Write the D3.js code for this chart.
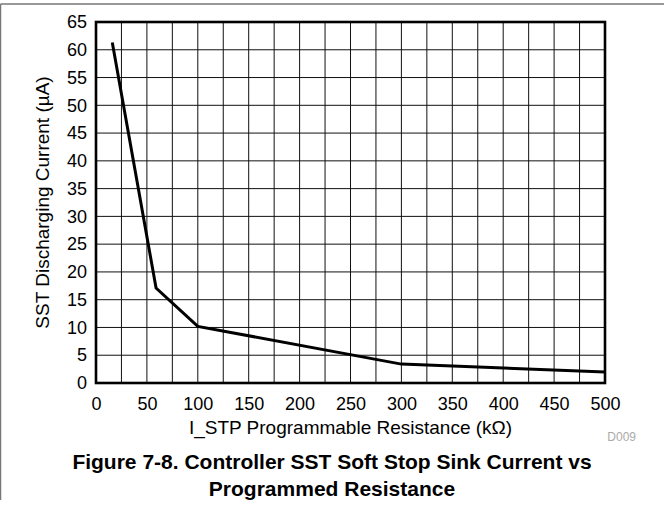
<!DOCTYPE html>
<html>
<head>
<meta charset="utf-8">
<script src="https://cdn.jsdelivr.net/npm/d3@7"></script>
<style>
  body { margin: 0; background: #fff; }
  svg { display: block; font-family: "Liberation Sans", Arial, Helvetica, sans-serif; }
</style>
</head>
<body>
<div id="chart"></div>
<script>
// curve: resistance (kOhm) -> sink current (uA)
var resistance = [16, 59, 100, 300, 500];
var current = [61.3, 17.1, 10.2, 3.4, 2.0];

var xTicks = [0, 50, 100, 150, 200, 250, 300, 350, 400, 450, 500];
var yTicks = [0, 5, 10, 15, 20, 25, 30, 35, 40, 45, 50, 55, 60, 65];
var xGrid = d3.range(25, 500, 25);

var xTitle = "I_STP Programmable Resistance (k\u03A9)";
var yTitle = "SST Discharging Current (\u00B5A)";
var caption1 = "Figure 7-8. Controller SST Soft Stop Sink Current vs";
var caption2 = "Programmed Resistance";

var width = 664, height = 506;
var marge = {left: 96, top: 22, right: 605, bottom: 383};

var svg = d3.select("#chart").append("svg")
    .attr("width", width)
    .attr("height", height);

// outer frame (only top and left edge show)
svg.append("line").attr("x1", 0.5).attr("y1", 4).attr("x2", width).attr("y2", 4)
    .attr("stroke", "#777").attr("stroke-width", 1.5);
svg.append("line").attr("x1", 0.5).attr("y1", 4).attr("x2", 0.5).attr("y2", 500)
    .attr("stroke", "#777").attr("stroke-width", 1.5);

var x = d3.scaleLinear().domain([0, 500]).range([marge.left, marge.right]);
var y = d3.scaleLinear().domain([0, 65]).range([marge.bottom, marge.top]);

// grid
var grid = svg.append("g");
grid.selectAll(".vg").data(xGrid).enter().append("line")
    .attr("x1", function(d){ return x(d); })
    .attr("x2", function(d){ return x(d); })
    .attr("y1", marge.top).attr("y2", marge.bottom)
    .attr("stroke", "#111").attr("stroke-width", 1);
grid.selectAll(".hg").data(yTicks.slice(1, -1)).enter().append("line")
    .attr("y1", function(d){ return y(d); })
    .attr("y2", function(d){ return y(d); })
    .attr("x1", marge.left).attr("x2", marge.right)
    .attr("stroke", "#111").attr("stroke-width", 1);

// frame of the plot
svg.append("rect")
    .attr("x", marge.left).attr("y", marge.top)
    .attr("width", marge.right - marge.left)
    .attr("height", marge.bottom - marge.top)
    .attr("fill", "none").attr("stroke", "#000").attr("stroke-width", 2.6);

// axes (labels only)
var xAxis = svg.append("g")
    .attr("transform", "translate(0," + marge.bottom + ")")
    .call(d3.axisBottom(x).tickValues(xTicks).tickSize(0).tickPadding(14));
var yAxis = svg.append("g")
    .attr("transform", "translate(" + marge.left + ",0)")
    .call(d3.axisLeft(y).tickValues(yTicks).tickSize(0).tickPadding(9));
[xAxis, yAxis].forEach(function(a){
    a.select(".domain").remove();
    a.selectAll("text")
        .attr("font-family", "'Liberation Sans', Arial, sans-serif")
        .attr("font-size", 18).attr("fill", "#000");
});

// the curve
var line = d3.line()
    .x(function(d, i){ return x(resistance[i]); })
    .y(function(d){ return y(d); });
svg.append("path")
    .datum(current)
    .attr("d", line)
    .attr("fill", "none")
    .attr("stroke", "#000")
    .attr("stroke-width", 3)
    .attr("stroke-linejoin", "miter");

// titles
svg.append("text")
    .attr("x", (marge.left + marge.right) / 2).attr("y", 434)
    .attr("text-anchor", "middle").attr("font-size", 19)
    .text(xTitle);
svg.append("text")
    .attr("transform", "translate(49," + ((marge.top + marge.bottom) / 2) + ") rotate(-90)")
    .attr("text-anchor", "middle").attr("font-size", 19)
    .text(yTitle);
svg.append("text")
    .attr("x", 636).attr("y", 441)
    .attr("text-anchor", "end").attr("font-size", 12).attr("fill", "#aaa")
    .text("D009");

svg.append("text")
    .attr("x", 332).attr("y", 469)
    .attr("text-anchor", "middle").attr("font-size", 21).attr("font-weight", "bold")
    .text(caption1);
svg.append("text")
    .attr("x", 332).attr("y", 496)
    .attr("text-anchor", "middle").attr("font-size", 21).attr("font-weight", "bold")
    .text(caption2);
</script>
</body>
</html>
